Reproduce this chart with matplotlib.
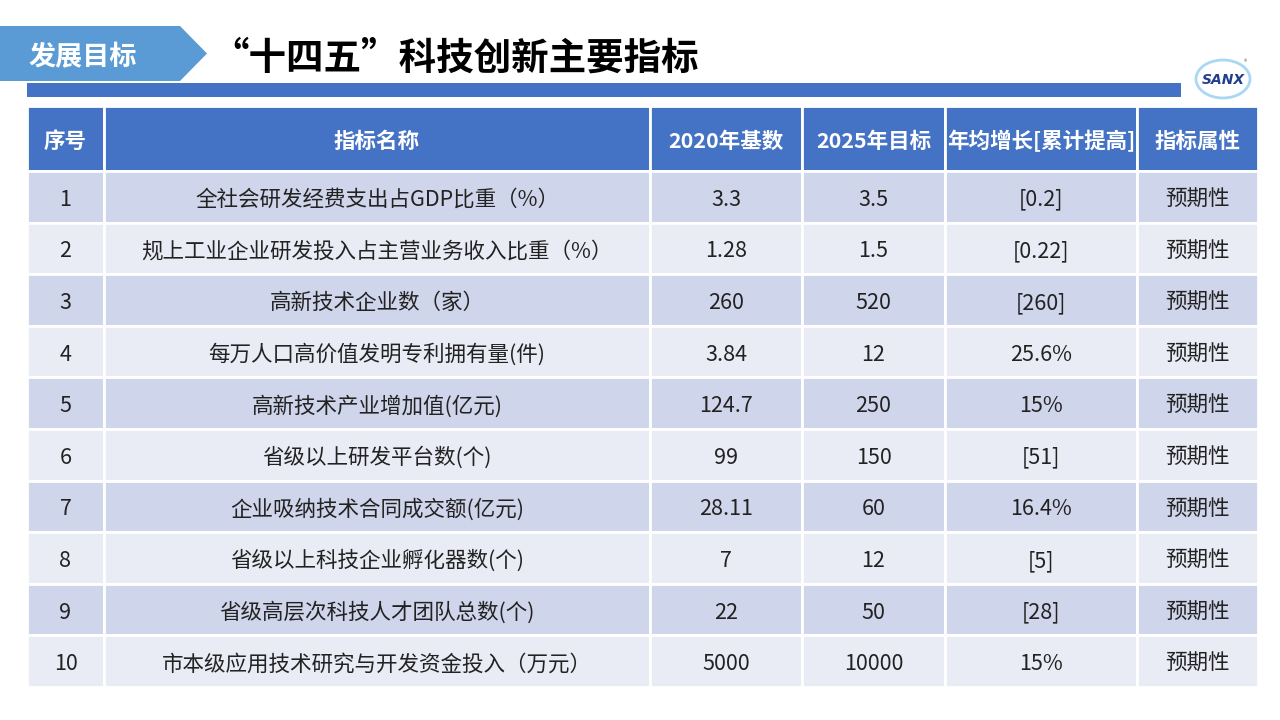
import matplotlib.pyplot as plt
from matplotlib.patches import Rectangle, Polygon, Ellipse

plt.rcParams['font.family'] = ['Noto Sans CJK SC', 'DejaVu Sans']

headers = ["序号", "指标名称", "2020年基数", "2025年目标", "年均增长[累计提高]", "指标属性"]
seq = ["1", "2", "3", "4", "5", "6", "7", "8", "9", "10"]
names = ["全社会研发经费支出占GDP比重（%）",
         "规上工业企业研发投入占主营业务收入比重（%）",
         "高新技术企业数（家）",
         "每万人口高价值发明专利拥有量(件)",
         "高新技术产业增加值(亿元)",
         "省级以上研发平台数(个)",
         "企业吸纳技术合同成交额(亿元)",
         "省级以上科技企业孵化器数(个)",
         "省级高层次科技人才团队总数(个)",
         "市本级应用技术研究与开发资金投入（万元）"]
base_2020 = ["3.3", "1.28", "260", "3.84", "124.7", "99", "28.11", "7", "22", "5000"]
target_2025 = ["3.5", "1.5", "520", "12", "250", "150", "60", "12", "50", "10000"]
growth = ["[0.2]", "[0.22]", "[260]", "25.6%", "15%", "[51]", "16.4%", "[5]", "[28]", "15%"]
attr = ["预期性"] * 10

# layout (pixels)
col_w = [77, 546, 152, 143, 192, 121]
x0 = 27
head_top, head_h = 106, 65
row_h = 51.6
dy = 3  # CJK font sits a bit high with va='center'

fig = plt.figure(figsize=(12.8, 7.2), dpi=100)
ax = fig.add_axes([0, 0, 1, 1])
ax.set_xlim(0, 1280)
ax.set_ylim(720, 0)
ax.axis('off')

# title tab
ax.add_patch(Polygon([(0, 26), (180, 26), (207, 53.5), (180, 81), (0, 81)],
                     closed=True, color='#5B9BD5', lw=0))
ax.text(28, 54 + dy, "发展目标", color='white', fontsize=19.5, fontweight='bold',
        ha='left', va='center')
ax.text(211, 55 + dy, "“十四五”科技创新主要指标", color='black', fontsize=27,
        fontweight='heavy', ha='left', va='center')

# blue bar
ax.add_patch(Rectangle((27, 83), 1154, 14, color='#4472C4', lw=0))

# logo
ax.add_patch(Ellipse((1223, 79), 54, 38, facecolor='white', edgecolor='#A8D8F2', lw=2))
ax.text(1223, 80, "SANX", color='#1F3E8C', fontsize=10, fontweight='bold',
        fontstyle='italic', ha='center', va='center', family='DejaVu Sans')
ax.text(1246, 62, "®", color='#666666', fontsize=5, ha='center', va='center')

# table
lefts = [x0]
for w in col_w[:-1]:
    lefts.append(lefts[-1] + w)

for j, h in enumerate(headers):
    ax.add_patch(Rectangle((lefts[j], head_top), col_w[j], head_h,
                           facecolor='#4472C4', edgecolor='white', lw=2))
    ax.text(lefts[j] + col_w[j] / 2, head_top + head_h / 2 + dy, h, color='white',
            fontsize=15.5, fontweight='bold', ha='center', va='center')

columns = [seq, names, base_2020, target_2025, growth, attr]
for i in range(len(seq)):
    top = head_top + head_h + i * row_h
    fc = '#CFD5EA' if i % 2 == 0 else '#E9EBF5'
    for j, col in enumerate(columns):
        ax.add_patch(Rectangle((lefts[j], top), col_w[j], row_h,
                               facecolor=fc, edgecolor='white', lw=2))
        ax.text(lefts[j] + col_w[j] / 2, top + row_h / 2 + dy, col[i], color='#222222',
                fontsize=15.5, ha='center', va='center')

fig.savefig("out.png", dpi=100)
